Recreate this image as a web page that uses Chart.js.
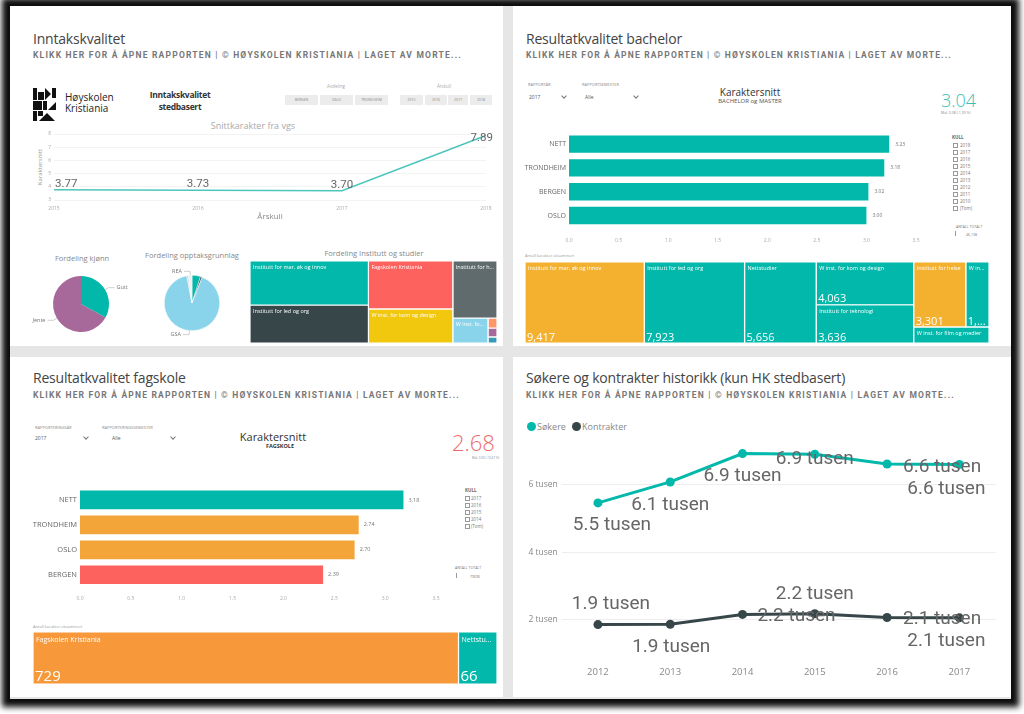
<!DOCTYPE html>
<html><head><meta charset="utf-8">
<script src="https://cdn.jsdelivr.net/npm/chart.js@4.4.1/dist/chart.umd.min.js"></script>
<style>
body{margin:0;width:1024px;height:714px;overflow:hidden;background:#fff;position:relative;font-family:'Open Sans',sans-serif;}
.frame{position:absolute;left:10px;top:6px;width:1001px;height:693px;background:#e6e6e6;box-shadow:0 0 6px 8px rgba(0,0,0,0.95);}
.panel{position:absolute;background:#fff;}
.t{position:absolute;white-space:nowrap;line-height:1;}
.title{font-size:14px;color:#444;letter-spacing:-0.2px;}
.sub{font-family:Roboto;font-weight:700;font-size:8.5px;color:#777;}
.btn{position:absolute;background:#ececec;font-size:3.5px;color:#888;text-align:center;line-height:10px;height:10px;}
.chev{position:absolute;width:3px;height:3px;border-right:1px solid #777;border-bottom:1px solid #777;transform:rotate(45deg);}
.cb{position:absolute;width:3px;height:3px;border:0.6px solid #999;}
canvas{position:absolute;}
</style></head>
<body>
<div class="frame"></div>
<div class="panel" style="left:10px;top:6px;width:493px;height:340px"></div>
<div class="panel" style="left:513px;top:6px;width:498px;height:340px"></div>
<div class="panel" style="left:10px;top:357px;width:493px;height:340px"></div>
<div class="panel" style="left:513px;top:357px;width:498px;height:340px"></div>
<svg style="position:absolute;left:33px;top:88px" width="28" height="33" viewBox="0 0 28 33">
<rect x="0" y="0" width="4" height="12" fill="#111"/><rect x="5" y="4" width="6" height="8" fill="#111"/>
<polygon points="12,0 18,6 12,12" fill="#111"/><rect x="19" y="0" width="4" height="10" fill="#111"/>
<rect x="0" y="13" width="9" height="9" fill="#111"/><rect x="10" y="13" width="4" height="9" fill="#111"/>
<polygon points="15,22 23,14 23,22" fill="#111"/><rect x="0" y="23" width="4" height="10" fill="#111"/>
<polygon points="6,33 14,25 22,33" fill="#111"/><rect x="5" y="23" width="5" height="5" fill="#111"/>
</svg>
<script>
// ---------------- DATA ----------------
const vgsYears = ['2015','2016','2017','2018'];
const vgsSnitt = [3.77, 3.73, 3.70, 7.89];
const kjonnCats = ['Gutt','Jente'];
const kjonnVals = [33, 67];
const opptakCats = ['Fagbrev','Annet','GSA','Ukjent','REA'];
const opptakVals = [5, 1, 91, 1, 2];
const instCats = ['Institutt for mar, øk og innov','Institutt for led og org','Fagskolen Kristiania','W inst. for kom og design','Institutt for helse','W inst. for film og medier','Annet 1','Annet 2','Annet 3'];
const instVals = [5190, 4480, 4030, 2860, 2510, 875, 90, 80, 55];
const bachCats = ['NETT','TRONDHEIM','BERGEN','OSLO'];
const bachSnitt = [3.23, 3.18, 3.02, 3.00];
const bachTmCats = ['Institutt for mar, øk og innov','Institutt for led og org','Nettstudier','W inst. for kom og design','Institutt for teknologi','Institutt for helse','W inst. for interaktiv design','W inst. for film og medier'];
const bachTmVals = [9417, 7923, 5656, 4063, 3636, 3301, 1469, 1180];
const fagCats = ['NETT','TRONDHEIM','OSLO','BERGEN'];
const fagSnitt = [3.18, 2.74, 2.70, 2.39];
const fagTmCats = ['Fagskolen Kristiania','Nettstudier'];
const fagTmVals = [729, 66];
const histYears = ['2012','2013','2014','2015','2016','2017'];
const sokere = [5460, 6080, 6920, 6900, 6610, 6600];
const kontrakter = [1860, 1870, 2160, 2180, 2070, 2060];
const kullBach = ['2018','2017','2016','2015','2014','2013','2012','2011','2010','(Tom)'];
const kullFag = ['2017','2016','2015','2014','(Tom)'];

// ---------------- STYLE ----------------
const TEAL='#01B8AA', DARK='#374649', RED='#FD625E', YEL='#F2C80F', GRAY='#5F6B6D', LBLUE='#8AD4EB', ORG='#FE9666', PURP='#A66999', BLUE='#3599B8';
const histLabelOffsets = [
  [[14,22],[0,23],[0,23],[0,5],[55,3],[-13,25]],
  [[13,-20],[1,23],[54,2],[0,-20],[55,2],[-13,23]]
];
Chart.defaults.font.family = "'Open Sans', sans-serif";

// ---------------- HELPERS ----------------
function txt(x,y,s,css){const d=document.createElement('div');d.className='t';d.style.cssText=`left:${x}px;top:${y}px;`+(css||'');d.textContent=s;document.body.appendChild(d);return d;}
function ctxt(cx,cy,s,size,css){return txt(cx-150,cy-size/2,s,`width:300px;text-align:center;font-size:${size}px;`+(css||''));}
function fitWidth(el,target){const w=el.getBoundingClientRect().width;el.style.letterSpacing=((target-w)/el.textContent.length)+'px';}
function el(cls,css){const d=document.createElement('div');d.className=cls;d.style.cssText=css;document.body.appendChild(d);return d;}
function mkCanvas(x,y,w,h){const c=document.createElement('canvas');c.width=w;c.height=h;c.style.cssText=`left:${x}px;top:${y}px;width:${w}px;height:${h}px;`;document.body.appendChild(c);return c;}
function fit(ctx,s,maxW){if(ctx.measureText(s).width<=maxW)return s;for(let k=s.length-1;k>=1;k--){const t=s.slice(0,k)+'...';if(ctx.measureText(t).width<=maxW)return t;}return s.slice(0,1)+'...';}
const base={responsive:false,animation:false,events:[],devicePixelRatio:1};

// ---------------- TEXTS ----------------
const SUB='KLIKK HER FOR Å ÅPNE RAPPORTEN | © HØYSKOLEN KRISTIANIA | LAGET AV MORTE...';
[[33,31.5,'Inntakskvalitet',50.5,429],[526,31.5,'Resultatkvalitet bachelor',50.5,426],[33,371.3,'Resultatkvalitet fagskole',390.6,427],[526,371.3,'Søkere og kontrakter historikk (kun HK stedbasert)',390.6,429]].forEach(a=>{
  txt(a[0],a[1],a[2]).classList.add('title');
  const s=txt(a[0],a[3],SUB);s.classList.add('sub');fitWidth(s,a[4]);
});
// P1 header items
txt(65,92,'Høyskolen','font-size:10px;color:#222;');
txt(65,103,'Kristiania','font-size:10px;color:#222;');
ctxt(180,95,'Inntakskvalitet',8.5,'font-weight:700;color:#333;letter-spacing:-0.3px;');
ctxt(180,107.5,'stedbasert',8.5,'font-weight:700;color:#333;letter-spacing:-0.3px;');
ctxt(336,86.5,'Avdeling',4.5,'color:#aaa;');
ctxt(444,86.5,'Årskull',4.5,'color:#aaa;');
[[285,33,'BERGEN'],[320,33,'OSLO'],[355,33,'TRONDHEIM'],[400,23,'2015'],[425,22,'2016'],[448,20,'2017'],[470,22,'2018']].forEach(b=>{const d=el('btn',`left:${b[0]}px;top:95px;width:${b[1]}px;`);d.textContent=b[2];});
ctxt(253,125,'Snittkarakter fra vgs',9,'color:#aaa;');
txt(10,164,'Karaktersnitt','width:60px;text-align:center;font-size:6px;color:#999;transform:rotate(-90deg);');
ctxt(82,259,'Fordeling kjønn',7.5,'color:#888;');
ctxt(192,256,'Fordeling opptaksgrunnlag',7.5,'color:#888;');
ctxt(374,254,'Fordeling Institutt og studier',7.5,'color:#888;');
// P2 header items
txt(528,83,'RAPPORTÅR','font-size:4px;color:#888;');
txt(529,95,'2017','font-size:5px;color:#555;');
el('chev','left:562px;top:94px;');
txt(582,83,'RAPPORTSEMESTER','font-size:4px;color:#888;');
txt(585,95,'Alle','font-size:5px;color:#555;');
el('chev','left:634px;top:94px;');
ctxt(750,91.5,'Karaktersnitt',10,'color:#333;');
ctxt(750,101,'BACHELOR og MASTER',6,'color:#555;');
txt(941,91,'3.04','font-size:18px;font-weight:300;color:#3CC0B4;');
txt(941,111,'Mål: 3.08 (-1,30 %)','font-size:3.5px;color:#888;');
txt(952,135,'KULL','font-size:4.5px;font-weight:700;color:#666;');
kullBach.forEach((k,i)=>{el('cb',`left:953px;top:${143+7*i}px;`);txt(960,143+7*i,k,'font-size:4.5px;color:#777;');});
txt(956,225,'ANTALL TOTALT','font-size:3.5px;color:#777;');
el('cb','left:955px;top:231px;width:0;height:5px;border-width:0 0 0 0.6px;');
txt(966,233,'46,138','font-size:3.5px;color:#777;');
txt(525,254,'Antall karakter eksaminert','font-size:4px;color:#999;');
// P3 header items
txt(35,426,'RAPPORTERINGSÅR','font-size:4px;color:#888;');
txt(35,436,'2017','font-size:5px;color:#555;');
el('chev','left:84px;top:435px;');
txt(102,426,'RAPPORTERINGSSEMESTER','font-size:4px;color:#888;');
txt(112,436,'Alle','font-size:5px;color:#555;');
el('chev','left:171px;top:435px;');
ctxt(273,436,'Karaktersnitt',11,'color:#333;');
ctxt(280,447,'FAGSKOLE',5.5,'font-weight:700;color:#333;');
txt(452,431,'2.68','font-size:22px;font-weight:300;color:#F0696A;');
txt(472,457,'Mål: 3.00 (-10,67 %)','font-size:3px;color:#888;');
txt(465,488,'KULL','font-size:4.5px;font-weight:700;color:#666;');
kullFag.forEach((k,i)=>{el('cb',`left:465px;top:${496+7*i}px;`);txt(471,496+7*i,k,'font-size:4.5px;color:#777;');});
txt(455,566,'ANTALL TOTALT','font-size:3.5px;color:#777;');
el('cb','left:456px;top:573px;width:0;height:5px;border-width:0 0 0 0.6px;');
txt(470,575,'79696','font-size:3.5px;color:#777;');
txt(33,625,'Antall karakter eksaminert','font-size:4px;color:#999;');
// P4 legend
el('lg',`position:absolute;left:526.5px;top:421.5px;width:9px;height:9px;border-radius:50%;background:${TEAL};`);
txt(537,421.5,'Søkere','font-size:9px;color:#888;');
el('lg',`position:absolute;left:571.5px;top:421.5px;width:9px;height:9px;border-radius:50%;background:${DARK};`);
txt(582,421.5,'Kontrakter','font-size:9px;color:#888;');

// ---------------- CHART A: Snittkarakter fra vgs ----------------
new Chart(mkCanvas(29,118,480,108),{type:'line',
  data:{labels:vgsYears,datasets:[{data:vgsSnitt,borderColor:'#4cc6bd',borderWidth:1.5,pointRadius:0,tension:0}]},
  options:{...base,layout:{padding:{top:16,right:23,left:0,bottom:0}},
    plugins:{legend:{display:false},tooltip:{enabled:false}},
    scales:{
      x:{offset:false,grid:{display:false,drawTicks:false},border:{display:false},ticks:{font:{size:5},color:'#aaa',padding:6,maxRotation:0},
         title:{display:true,text:'Årskull',font:{size:8},color:'#888',padding:{top:0,bottom:4}},afterFit:s=>{s.height=26;}},
      y:{min:3,max:8,ticks:{stepSize:1,font:{size:5},color:'#aaa',padding:3},grid:{color:'#f3f3f3',drawTicks:false},border:{display:false},afterFit:s=>{s.width=25;}}
    }},
  plugins:[{id:'vgsLabels',afterDatasetsDraw(chart){const ctx=chart.ctx,ca=chart.chartArea;ctx.save();ctx.font='11.5px Roboto';ctx.fillStyle='#666';ctx.textBaseline='bottom';
    chart.getDatasetMeta(0).data.forEach((p,i)=>{const s=vgsSnitt[i].toFixed(2);const w=ctx.measureText(s).width;let x=Math.max(ca.left+1,Math.min(p.x-w/2,chart.width-w-16));
      const yb=Math.max(p.y,ca.top+10);ctx.fillText(s,x,yb);});ctx.restore();}}]
});

// ---------------- PIES ----------------
const pieLabels={id:'pieLabels',afterDatasetsDraw(chart,args,o){const ctx=chart.ctx;ctx.save();
  chart.getDatasetMeta(0).data.forEach((a,i)=>{const name=chart.data.labels[i];if(!o.show.includes(name))return;
    const mid=(a.startAngle+a.endAngle)/2,r=a.outerRadius;
    const x0=a.x+Math.cos(mid)*r,y0=a.y+Math.sin(mid)*r,x1=a.x+Math.cos(mid)*(r+4),y1=a.y+Math.sin(mid)*(r+4);
    const right=Math.cos(mid)>=0,x2=x1+(right?6:-6);
    ctx.strokeStyle='#bbb';ctx.lineWidth=0.7;ctx.beginPath();ctx.moveTo(x0,y0);ctx.lineTo(x1,y1);ctx.lineTo(x2,y1);ctx.stroke();
    ctx.font="5.5px 'Open Sans'";ctx.fillStyle='#777';ctx.textAlign=right?'left':'right';ctx.textBaseline='middle';ctx.fillText(name,x2+(right?2:-2),y1);});
  ctx.restore();}};
new Chart(mkCanvas(21,264,120,80),{type:'pie',
  data:{labels:kjonnCats,datasets:[{data:kjonnVals,backgroundColor:[TEAL,PURP],borderWidth:0}]},
  options:{...base,layout:{padding:{top:12,bottom:12}},plugins:{legend:{display:false},tooltip:{enabled:false},pieLabels:{show:kjonnCats}}},plugins:[pieLabels]});
new Chart(mkCanvas(132,263,120,80),{type:'pie',
  data:{labels:opptakCats,datasets:[{data:opptakVals,backgroundColor:[TEAL,DARK,LBLUE,'#cfcfcf','#eeeeee'],borderColor:'#fff',borderWidth:0.5}]},
  options:{...base,layout:{padding:{top:12,bottom:12}},plugins:{legend:{display:false},tooltip:{enabled:false},pieLabels:{show:['REA','GSA']}}},plugins:[pieLabels]});

// ---------------- TREEMAPS (polygons on linear scales) ----------------
function nodeSum(n,vals){return typeof n==='number'?vals[n]:n.c.reduce((a,ch)=>a+nodeSum(ch,vals),0);}
function layoutTree(n,vals,x,y,w,h,out){
  if(typeof n==='number'){out[n]={x,y,w,h};return;}
  const sums=n.c.map(ch=>nodeSum(ch,vals)),tot=sums.reduce((a,b)=>a+b,0);let off=0;
  n.c.forEach((ch,i)=>{const f=sums[i]/tot;
    if(n.d==='h')layoutTree(ch,vals,x+off*w,y,w*f,h,out);else layoutTree(ch,vals,x,y+off*h,w,h*f,out);off+=f;});
}
function treemap(x,y,w,h,cats,vals,colors,tree,o){
  const rects=[];layoutTree(tree,vals,0,0,1,1,rects);
  const datasets=rects.map((r,i)=>({data:[{x:r.x,y:r.y},{x:r.x+r.w,y:r.y},{x:r.x+r.w,y:r.y+r.h},{x:r.x,y:r.y+r.h},{x:r.x,y:r.y}],
    showLine:true,fill:'shape',backgroundColor:colors[i],borderColor:'#fff',borderWidth:1.2,pointRadius:0,tension:0}));
  new Chart(mkCanvas(x,y,w,h),{type:'scatter',data:{datasets},
    options:{...base,layout:{padding:0},plugins:{legend:{display:false},tooltip:{enabled:false}},
      scales:{x:{type:'linear',min:0,max:1,display:false},y:{type:'linear',min:0,max:1,reverse:true,display:false}}},
    plugins:[{id:'tmLabels',afterDatasetsDraw(chart){const ctx=chart.ctx,xs=chart.scales.x,ys=chart.scales.y;ctx.save();ctx.fillStyle='#fff';
      rects.forEach((r,i)=>{const px=xs.getPixelForValue(r.x),py=ys.getPixelForValue(r.y);
        const pw=xs.getPixelForValue(r.x+r.w)-px,ph=ys.getPixelForValue(r.y+r.h)-py;
        if(pw>o.minW&&ph>12){ctx.font=o.nameFont;ctx.textBaseline='top';ctx.textAlign='left';ctx.fillText(fit(ctx,cats[i],pw-6),px+3,py+4);}
        if(o.showVal&&ph>30&&pw>12){ctx.font=o.valFont;ctx.textBaseline='bottom';ctx.fillText(fit(ctx,vals[i].toLocaleString('en-US'),pw-4),px+2,py+ph);}
      });ctx.restore();}}]
  });
}
treemap(250,261,247,82,instCats,instVals,[TEAL,DARK,RED,YEL,GRAY,LBLUE,ORG,PURP,BLUE],
  {d:'h',c:[{d:'v',c:[0,1]},{d:'v',c:[2,3]},{d:'v',c:[4,{d:'h',c:[5,{d:'v',c:[6,7,8]}]}]}]},
  {minW:20,nameFont:"5.5px 'Open Sans'",showVal:false});
treemap(525,262,464,81,bachTmCats,bachTmVals,['#F4B12F',TEAL,TEAL,TEAL,TEAL,'#F4B12F',TEAL,TEAL],
  {d:'h',c:[0,1,2,{d:'v',c:[3,4]},{d:'v',c:[{d:'h',c:[5,6]},7]}]},
  {minW:14,nameFont:"5.5px 'Open Sans'",showVal:true,valFont:"11px 'Open Sans'"});
treemap(33,632,464,52,fagTmCats,fagTmVals,['#F7993B',TEAL],
  {d:'h',c:[0,1]},
  {minW:14,nameFont:"7px 'Open Sans'",showVal:true,valFont:"15px 'Open Sans'"});

// ---------------- BAR CHARTS ----------------
const barVal={id:'barVal',afterDatasetsDraw(chart,args,o){const ctx=chart.ctx;ctx.save();ctx.font=o.font;ctx.fillStyle='#777';ctx.textBaseline='middle';
  chart.getDatasetMeta(0).data.forEach((b,i)=>{ctx.fillText(chart.data.datasets[0].data[i].toFixed(2),b.x+o.dx,b.y);});ctx.restore();}};
function hbar(x,y,w,h,cats,vals,colors,g,o){
  new Chart(mkCanvas(x,y,w,h),{type:'bar',
    data:{labels:cats,datasets:[{data:vals,backgroundColor:colors,barPercentage:g.bp,categoryPercentage:1}]},
    options:{...base,indexAxis:'y',layout:{padding:{top:g.top,right:g.right,left:0,bottom:0}},
      plugins:{legend:{display:false},tooltip:{enabled:false},barVal:o},
      scales:{
        x:{min:0,max:3.5,ticks:{stepSize:0.5,font:{size:5},color:'#aaa',padding:g.tp,callback:v=>v.toFixed(1)},grid:{display:false,drawTicks:false},border:{display:false},afterFit:s=>{s.height=g.xh;}},
        y:{ticks:{font:{size:g.cs},color:'#666',padding:3},grid:{display:false,drawTicks:false},border:{display:false},afterFit:s=>{s.width=g.yw;}}
      }},plugins:[barVal]});
}
hbar(515,125,420,125,bachCats,bachSnitt,TEAL,{bp:0.73,top:3.6,right:19,xh:22.6,yw:54,tp:10,cs:7},{font:"5px 'Open Sans'",dx:6});
hbar(20,480,440,125,fagCats,fagSnitt,[TEAL,'#F4A53A','#F4A53A',RED],{bp:0.75,top:5.85,right:24,xh:17.8,yw:60,tp:8.3,cs:7.5},{font:"5.5px 'Open Sans'",dx:5});

// ---------------- CHART I: Søkere og kontrakter ----------------
new Chart(mkCanvas(515,435,485,250),{type:'line',
  data:{labels:histYears,datasets:[
    {label:'Søkere',data:sokere,borderColor:TEAL,backgroundColor:TEAL,borderWidth:3,pointRadius:4.5,pointBorderWidth:0,pointBackgroundColor:TEAL,tension:0},
    {label:'Kontrakter',data:kontrakter,borderColor:DARK,backgroundColor:DARK,borderWidth:3,pointRadius:4.5,pointBorderWidth:0,pointBackgroundColor:DARK,tension:0}]},
  options:{...base,layout:{padding:{top:4.6,right:3.8,left:0,bottom:0}},
    plugins:{legend:{display:false},tooltip:{enabled:false}},
    scales:{
      x:{offset:true,grid:{display:false,drawTicks:false},border:{display:false},ticks:{font:{size:9.5},color:'#888',padding:6},afterFit:s=>{s.height=24.6;}},
      y:{min:800,max:7200,afterBuildTicks:s=>{s.ticks=[2000,4000,6000].map(v=>({value:v}));},
         ticks:{callback:v=>(v/1000)+' tusen',font:{size:8.5},color:'#888',padding:4},grid:{color:'#eeeeee',drawTicks:false},border:{display:false},afterFit:s=>{s.width=46.8;}}
    }},
  plugins:[{id:'histLabels',afterDatasetsDraw(chart){const ctx=chart.ctx;ctx.save();ctx.font='19px Roboto';ctx.fillStyle='#666';ctx.textAlign='center';ctx.textBaseline='middle';
    chart.data.datasets.forEach((ds,di)=>{chart.getDatasetMeta(di).data.forEach((p,i)=>{const off=histLabelOffsets[di][i];
      ctx.fillText((ds.data[i]/1000).toFixed(1)+' tusen',p.x+off[0],p.y+off[1]);});});ctx.restore();}}]
});
</script>
</body></html>
